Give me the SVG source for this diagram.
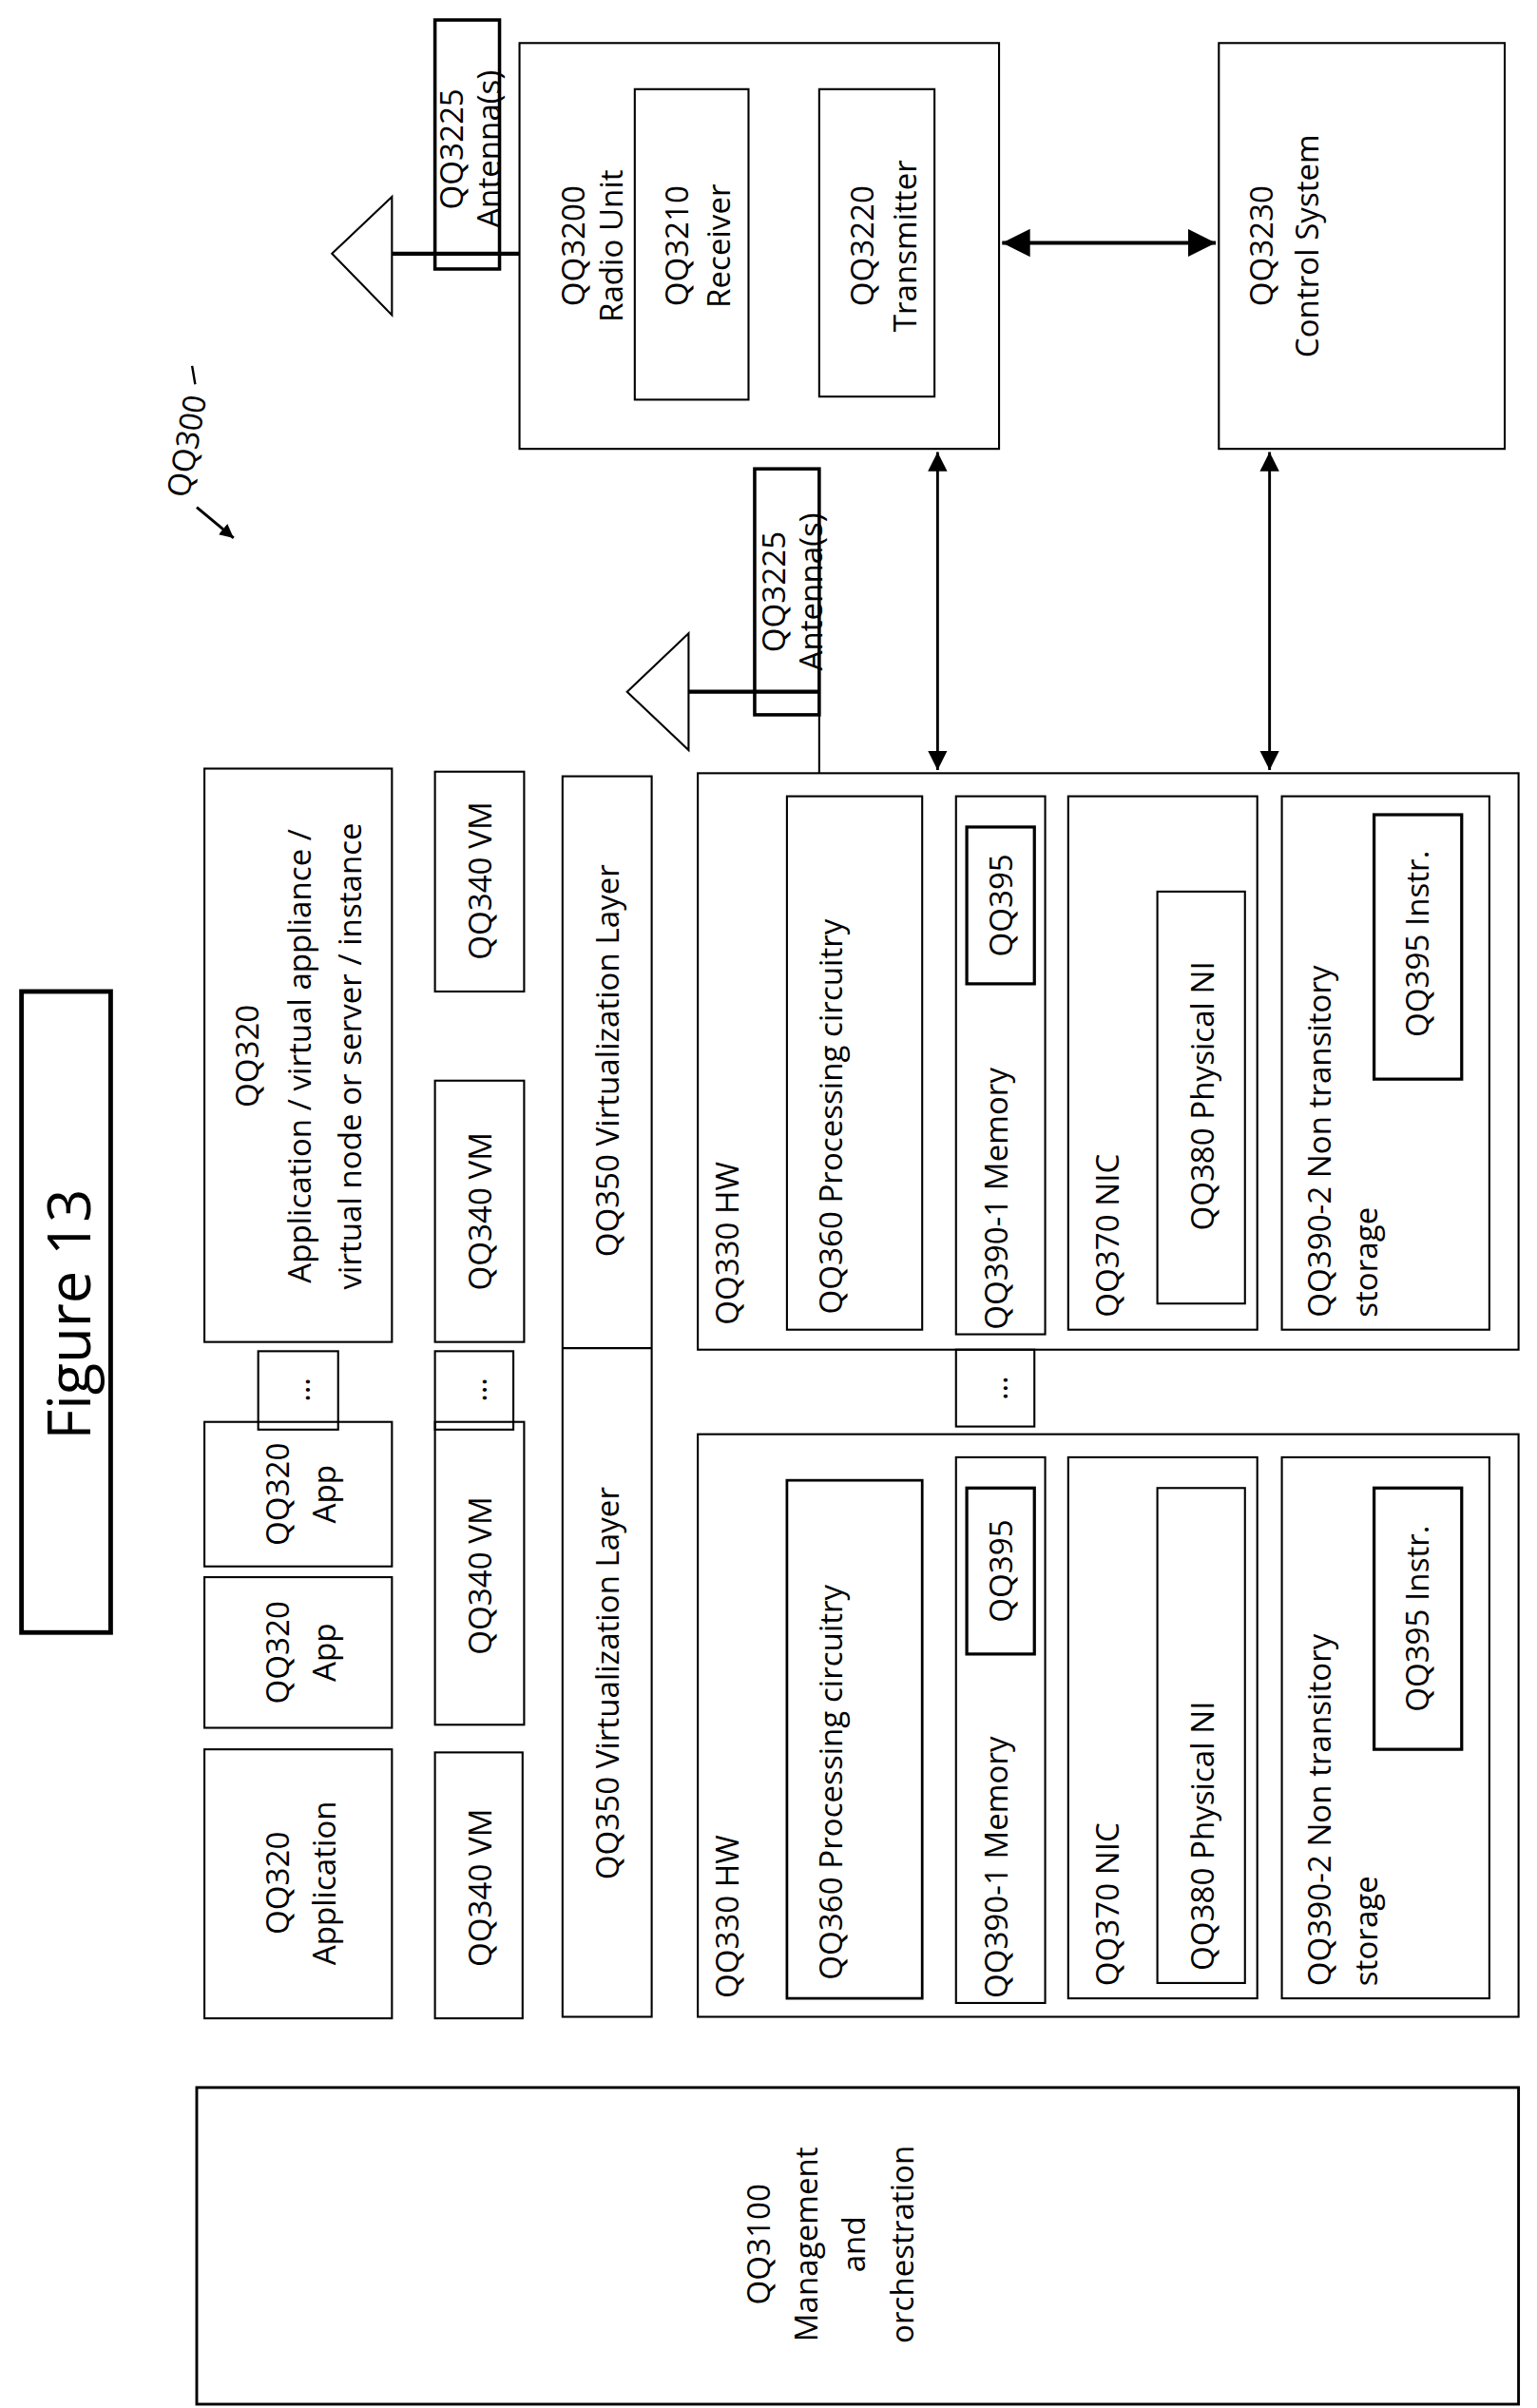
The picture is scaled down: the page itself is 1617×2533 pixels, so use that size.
<svg xmlns="http://www.w3.org/2000/svg" width="1617" height="2533" viewBox="0 0 1617 2533">
<style>
rect{fill:none;stroke:#000;stroke-width:1.3}
.t{font-family:"Open Sans","Liberation Sans",Arial,sans-serif;font-size:20.5px;fill:#000;dominant-baseline:central}
.m{text-anchor:middle}
.s{text-anchor:start}
.k{stroke:#000;stroke-width:2.6;fill:none}
.a{stroke:#000;stroke-width:1.8;fill:none}
</style>
<defs>
<marker id="ah" viewBox="0 0 10 10" refX="10" refY="5" markerWidth="5" markerHeight="5" orient="auto-start-reverse"><path d="M0,0L10,5L0,10z" fill="#000"/></marker>
<marker id="ah2" viewBox="0 0 10 10" refX="10" refY="5" markerWidth="7" markerHeight="7" orient="auto-start-reverse"><path d="M0,0L10,5L0,10z" fill="#000"/></marker>
</defs>
<rect width="1617" height="2533" fill="#fff" style="fill:#fff;stroke:none"/>
<g transform="scale(1.617)">
<g id="fig"><rect x="14" y="645" width="58" height="417" style="stroke-width:3"/><text class="t m" style="font-size:38px" transform="translate(44,855) rotate(-90)">Figure 13</text></g>
<g id="ref"><text class="t m" transform="translate(121,290) rotate(-80)">QQ300</text><line x1="125" y1="238" x2="127" y2="250" stroke="#000" stroke-width="1.5"/></g>
<g id="radio"><rect x="338" y="28" width="312" height="264"/><text class="t m" transform="translate(372,160) rotate(-90)"><tspan x="0" dy="0">QQ3200</tspan><tspan x="0" dy="25">Radio Unit</tspan></text></g>
<g id="rx"><rect x="413" y="58" width="74" height="202"/><text class="t m" transform="translate(440,160) rotate(-90)"><tspan x="0">QQ3210</tspan><tspan x="0" dy="27">Receiver</tspan></text></g>
<g id="tx"><rect x="533" y="58" width="75" height="200"/><text class="t m" transform="translate(560,160) rotate(-90)"><tspan x="0">QQ3220</tspan><tspan x="0" dy="28">Transmitter</tspan></text></g>
<g id="ant1"><rect x="283" y="13" width="42" height="162" style="stroke-width:2.2"/><path d="M255,128L216,165L255,205z" class="a" style="stroke-width:1.3"/><text class="t m" transform="translate(293,97) rotate(-90)"><tspan x="0">QQ3225</tspan><tspan x="0" dy="24">Antenna(s)</tspan></text></g>
<g id="ctrl"><rect x="793" y="28" width="186" height="264"/><text class="t m" transform="translate(820,160) rotate(-90)"><tspan x="0">QQ3230</tspan><tspan x="0" dy="30">Control System</tspan></text></g>
<g id="ant2"><rect x="491" y="305" width="42" height="160" style="stroke-width:2.2"/><path d="M448,412L408,450L448,488z" class="a" style="stroke-width:1.3"/><text class="t m" transform="translate(503,385) rotate(-90)"><tspan x="0">QQ3225</tspan><tspan x="0" dy="24">Antenna(s)</tspan></text></g>
<g id="app1"><rect x="133" y="500" width="122" height="373"/><text class="t m" transform="translate(160,687) rotate(-90)"><tspan x="0">QQ320</tspan><tspan x="0" dy="34">Application / virtual appliance /</tspan><tspan x="0" dy="33">virtual node or server / instance</tspan></text></g>
<g id="vm1"><rect x="283" y="502" width="58" height="143"/><text class="t m" transform="translate(312,573) rotate(-90)">QQ340 VM</text></g>
<g id="vm2"><rect x="283" y="703" width="58" height="170"/><text class="t m" transform="translate(312,788) rotate(-90)">QQ340 VM</text></g>
<g id="dots1"><rect x="168" y="879" width="52" height="51"/><text class="t m" transform="translate(194,904) rotate(-90)">…</text></g>
<g id="dots2"><rect x="283" y="879" width="51" height="51"/><text class="t m" transform="translate(309,904) rotate(-90)">…</text></g>
<g id="app2"><rect x="133" y="925" width="122" height="94"/><text class="t m" transform="translate(180,972) rotate(-90)"><tspan x="0">QQ320</tspan><tspan x="0" dy="30">App</tspan></text></g>
<g id="app3"><rect x="133" y="1026" width="122" height="98"/><text class="t m" transform="translate(180,1075) rotate(-90)"><tspan x="0">QQ320</tspan><tspan x="0" dy="30">App</tspan></text></g>
<g id="app4"><rect x="133" y="1138" width="122" height="175"/><text class="t m" transform="translate(180,1225) rotate(-90)"><tspan x="0">QQ320</tspan><tspan x="0" dy="30">Application</tspan></text></g>
<g id="vm3"><rect x="283" y="925" width="58" height="197"/><text class="t m" transform="translate(312,1025) rotate(-90)">QQ340 VM</text></g>
<g id="vm4"><rect x="283" y="1140" width="57" height="173"/><text class="t m" transform="translate(312,1228) rotate(-90)">QQ340 VM</text></g>
<g id="virt"><rect x="366" y="505" width="58" height="807"/><line x1="366" y1="877" x2="424" y2="877" stroke="#000" stroke-width="1.3"/><text class="t m" transform="translate(395,690) rotate(-90)">QQ350 Virtualization Layer</text><text class="t m" transform="translate(395,1095) rotate(-90)">QQ350 Virtualization Layer</text></g>
<g id="hw1"><rect x="454" y="503" width="534" height="375"/><text class="t s" transform="translate(473,862) rotate(-90)">QQ330 HW</text>
<rect x="512" y="518" width="88" height="347"/><text class="t s" transform="translate(540,855) rotate(-90)">QQ360 Processing circuitry</text>
<rect x="622" y="518" width="58" height="350"/><text class="t s" transform="translate(648,865) rotate(-90)">QQ390-1 Memory</text>
<rect x="629" y="538" width="44" height="102" style="stroke-width:2"/><text class="t m" transform="translate(651,589) rotate(-90)">QQ395</text>
<rect x="695" y="518" width="123" height="347"/><text class="t s" transform="translate(720,857) rotate(-90)">QQ370 NIC</text>
<rect x="753" y="580" width="57" height="268"/><text class="t m" transform="translate(782,713) rotate(-90)">QQ380 Physical NI</text>
<rect x="834" y="518" width="135" height="347"/><text class="t s" transform="translate(858,857) rotate(-90)"><tspan x="0">QQ390-2 Non transitory</tspan><tspan x="0" dy="30">storage</tspan></text>
<rect x="894" y="530" width="57" height="172" style="stroke-width:2"/><text class="t m" transform="translate(922,614) rotate(-90)">QQ395 Instr.</text></g>
<g id="dots3"><rect x="622" y="878" width="51" height="50"/><text class="t m" transform="translate(648,903) rotate(-90)">…</text></g>
<g id="hw2"><rect x="454" y="933" width="534" height="379"/><text class="t s" transform="translate(473,1300) rotate(-90)">QQ330 HW</text>
<rect x="512" y="963" width="88" height="337" style="stroke-width:1.7"/><text class="t s" transform="translate(540,1288) rotate(-90)">QQ360 Processing circuitry</text>
<rect x="622" y="948" width="58" height="355"/><text class="t s" transform="translate(648,1300) rotate(-90)">QQ390-1 Memory</text>
<rect x="629" y="968" width="44" height="108" style="stroke-width:2"/><text class="t m" transform="translate(651,1022) rotate(-90)">QQ395</text>
<rect x="695" y="948" width="123" height="352"/><text class="t s" transform="translate(720,1292) rotate(-90)">QQ370 NIC</text>
<rect x="753" y="968" width="57" height="322"/><text class="t s" transform="translate(782,1282) rotate(-90)">QQ380 Physical NI</text>
<rect x="834" y="948" width="135" height="352"/><text class="t s" transform="translate(858,1292) rotate(-90)"><tspan x="0">QQ390-2 Non transitory</tspan><tspan x="0" dy="30">storage</tspan></text>
<rect x="894" y="968" width="57" height="170" style="stroke-width:2"/><text class="t m" transform="translate(922,1053) rotate(-90)">QQ395 Instr.</text></g>
<g id="mano"><rect x="128" y="1358" width="860" height="206" style="stroke-width:1.8"/><text class="t m" transform="translate(493,1460) rotate(-90)"><tspan x="0">QQ3100</tspan><tspan x="0" dy="31">Management</tspan><tspan x="0" dy="31">and</tspan><tspan x="0" dy="31">orchestration</tspan></text></g>
<g id="connectors">
<line x1="255" y1="165" x2="338" y2="165" class="k"/>
<line x1="448" y1="450" x2="533" y2="450" class="k"/>
<line x1="533" y1="465" x2="533" y2="503" stroke="#000" stroke-width="1.3"/>
<line x1="652" y1="158" x2="791" y2="158" class="k" marker-start="url(#ah2)" marker-end="url(#ah2)"/>
<line x1="610" y1="294" x2="610" y2="501" class="a" marker-start="url(#ah2)" marker-end="url(#ah2)"/>
<line x1="826" y1="294" x2="826" y2="501" class="a" marker-start="url(#ah2)" marker-end="url(#ah2)"/>
<line x1="128" y1="330" x2="152" y2="350" class="a" marker-end="url(#ah)"/>
</g>
</g>
</svg>
